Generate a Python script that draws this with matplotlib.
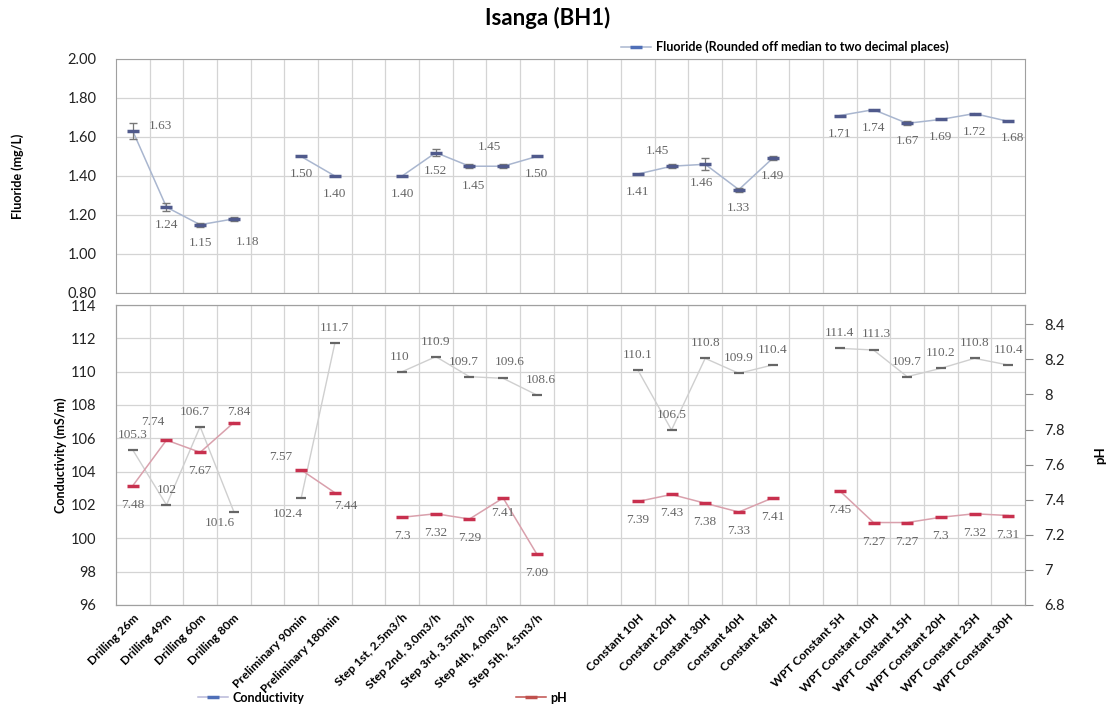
import numpy as np
import matplotlib
matplotlib.use("Agg")
import matplotlib.pyplot as plt
from matplotlib.lines import Line2D

# categories (empty strings = spacer slots between test phases)
categories = [
    "Drilling 26m", "Drilling 49m", "Drilling 60m", "Drilling 80m", "",
    "Preliminary 90min", "Preliminary 180min", "",
    "Step 1st, 2.5m3/h", "Step 2nd, 3.0m3/h", "Step 3rd, 3.5m3/h",
    "Step 4th, 4.0m3/h", "Step 5th, 4.5m3/h", "", "",
    "Constant 10H", "Constant 20H", "Constant 30H", "Constant 40H", "Constant 48H", "",
    "WPT Constant 5H", "WPT Constant 10H", "WPT Constant 15H",
    "WPT Constant 20H", "WPT Constant 25H", "WPT Constant 30H",
]
nan = np.nan
fluoride = [1.63, 1.24, 1.15, 1.18, nan, 1.50, 1.40, nan,
            1.40, 1.52, 1.45, 1.45, 1.50, nan, nan,
            1.41, 1.45, 1.46, 1.33, 1.49, nan,
            1.71, 1.74, 1.67, 1.69, 1.72, 1.68]
fluoride_err = [0.04, 0.02, 0.01, 0.01, 0, 0, 0, 0,
                0, 0.02, 0.01, 0.01, 0, 0, 0,
                0, 0.01, 0.03, 0.01, 0.01, 0,
                0, 0, 0.01, 0, 0, 0]
conductivity = [105.3, 102, 106.7, 101.6, nan, 102.4, 111.7, nan,
                110, 110.9, 109.7, 109.6, 108.6, nan, nan,
                110.1, 106.5, 110.8, 109.9, 110.4, nan,
                111.4, 111.3, 109.7, 110.2, 110.8, 110.4]
ph = [7.48, 7.74, 7.67, 7.84, nan, 7.57, 7.44, nan,
      7.3, 7.32, 7.29, 7.41, 7.09, nan, nan,
      7.39, 7.43, 7.38, 7.33, 7.41, nan,
      7.45, 7.27, 7.27, 7.3, 7.32, 7.31]

x = np.arange(len(categories))
PX = 0.72  # pixel -> points at dpi 100

# label offsets in pixels (dx, dy), default below / above
fl_off = {i: (0, -18) for i in range(len(x))}
fl_off.update({0: (28, 5), 3: (14, -23), 10: (4, -20), 11: (-14, 19),
               16: (-14, 15), 17: (-4, -19), 26: (4, -17)})
co_off = {i: (0, 15) for i in range(len(x))}
co_off.update({2: (-5, 15), 3: (-14, -11), 5: (-13, -16), 8: (-3, 15),
               10: (-6, 15), 11: (7, 16), 12: (4, 15), 22: (3, 16)})
ph_off = {i: (0, -19) for i in range(len(x))}
ph_off.update({1: (-14, 18), 3: (5, 11), 5: (-20, 13), 6: (11, -13),
               11: (0, -15)})

label_font = dict(family="Liberation Serif", fontsize=9.5, color="#666666")
tick_font = "Lato"
grid_c = "#d4d4d4"

fig = plt.figure(figsize=(11.11, 7.08), dpi=100)
ax1 = fig.add_axes([0.1044, 0.5862, 0.8182, 0.3305])
ax2 = fig.add_axes([0.1044, 0.1455, 0.8182, 0.4237])
ax3 = ax2.twinx()

for a in (ax1, ax2):
    a.set_xlim(-0.5, len(x) - 0.5)
    a.set_xticks(x)
    a.set_xticks(x[:-1] + 0.5, minor=True)
    a.grid(True, which="minor", axis="x", color=grid_c, lw=0.9)
    a.grid(True, which="major", axis="y", color=grid_c, lw=0.9)
    a.set_axisbelow(True)
    for s in a.spines.values():
        s.set_color("#a0a0a0")
    a.tick_params(axis="x", which="both", length=0)
    a.tick_params(axis="y", length=0, labelsize=10.5, colors="#222222", pad=14)

# fluoride panel
ax1.plot(x, fluoride, color="#a9b6cf", lw=1.1, zorder=2)
ax1.errorbar(x, fluoride, yerr=fluoride_err, fmt="none", ecolor="#777777",
             elinewidth=0.9, capsize=3, zorder=3)
ax1.plot(x, fluoride, ls="none", marker="_", ms=8, mew=2.5, color="#505a8c", zorder=4)
ax1.set_ylim(0.8, 2.0)
ax1.set_yticks(np.arange(0.8, 2.01, 0.2))
ax1.set_yticklabels([f"{v:.2f}" for v in np.arange(0.8, 2.01, 0.2)])
ax1.set_xticklabels([])
for i, v in enumerate(fluoride):
    if not np.isnan(v):
        dx, dy = fl_off[i]
        ax1.annotate(f"{v:.2f}", (x[i], v), xytext=(dx * PX, dy * PX),
                     textcoords="offset points", ha="center", va="center", **label_font)
ax1.set_ylabel("Fluoride (mg/L)", fontsize=9, fontweight="bold", family=tick_font, va="center")
ax1.yaxis.set_label_coords(-0.108, 0.5)

# conductivity / pH panel
ax2.plot(x, conductivity, color="#cfcfcf", lw=1.0, zorder=2)
ax2.plot(x, conductivity, ls="none", marker="_", ms=7, mew=1.6, color="#666666", zorder=4)
ax2.set_ylim(96, 114)
ax2.set_yticks(np.arange(96, 115, 2))
for i, v in enumerate(conductivity):
    if not np.isnan(v):
        dx, dy = co_off[i]
        ax2.annotate(f"{v:g}", (x[i], v), xytext=(dx * PX, dy * PX),
                     textcoords="offset points", ha="center", va="center", **label_font)
ax2.set_ylabel("Conductivity (mS/m)", fontsize=9, fontweight="bold", family=tick_font, va="center")
ax2.yaxis.set_label_coords(-0.061, 0.5)
ax2.set_xticklabels(categories, rotation=45, ha="right", rotation_mode="anchor",
                    fontsize=8.7, fontweight="bold", family=tick_font)
ax2.tick_params(axis="x", pad=5)

ax3.plot(x, ph, color="#d9a0ac", lw=1.1, zorder=2)
ax3.plot(x, ph, ls="none", marker="_", ms=8, mew=2.5, color="#c8304e", zorder=4)
ax3.set_ylim(6.8, 8.51)
ax3.set_yticks(np.arange(6.8, 8.41, 0.2))
ax3.set_yticklabels([f"{v:g}" for v in np.round(np.arange(6.8, 8.41, 0.2), 1)])
ax3.tick_params(axis="y", length=6, color="#888888", labelsize=10.5, colors="#222222", pad=8)
for s in ax3.spines.values():
    s.set_color("#a0a0a0")
for i, v in enumerate(ph):
    if not np.isnan(v):
        dx, dy = ph_off[i]
        ax3.annotate(f"{v:g}", (x[i], v), xytext=(dx * PX, dy * PX),
                     textcoords="offset points", ha="center", va="center", **label_font)
ax3.set_ylabel("pH", fontsize=9.5, fontweight="bold", rotation=90, family=tick_font, va="center")
ax3.yaxis.set_label_coords(1.0825, 0.5)

for a in (ax1, ax2, ax3):
    for t in a.get_yticklabels():
        t.set_family(tick_font)

fig.text(0.493, 0.975, "Isanga (BH1)", ha="center", va="center",
         fontsize=16, fontweight="bold", family=tick_font)

leg_prop = dict(family=tick_font, size=9, weight="bold")
h_fl = Line2D([], [], color="#a9b6cf", lw=1.1, marker="_", ms=8, mew=2.5, mec="#4f6fb8")
fig.legend([h_fl], ["Fluoride (Rounded off median to two decimal places)"],
           loc="center left", bbox_to_anchor=(0.549, 0.934), frameon=False,
           prop=leg_prop, handlelength=2.4, handletextpad=0.4)
h_co = Line2D([], [], color="#b8b8d8", lw=1.1, marker="_", ms=8, mew=2.5, mec="#4f6fb8")
fig.legend([h_co], ["Conductivity"], loc="center left", bbox_to_anchor=(0.168, 0.0145),
           frameon=False, prop=leg_prop, handlelength=2.4, handletextpad=0.4)
h_ph = Line2D([], [], color="#c0504d", lw=1.1, marker="_", ms=8, mew=2.5, mec="#c0504d")
fig.legend([h_ph], ["pH"], loc="center left", bbox_to_anchor=(0.454, 0.0145),
           frameon=False, prop=leg_prop, handlelength=2.4, handletextpad=0.4)

fig.savefig("out.png", dpi=100)
